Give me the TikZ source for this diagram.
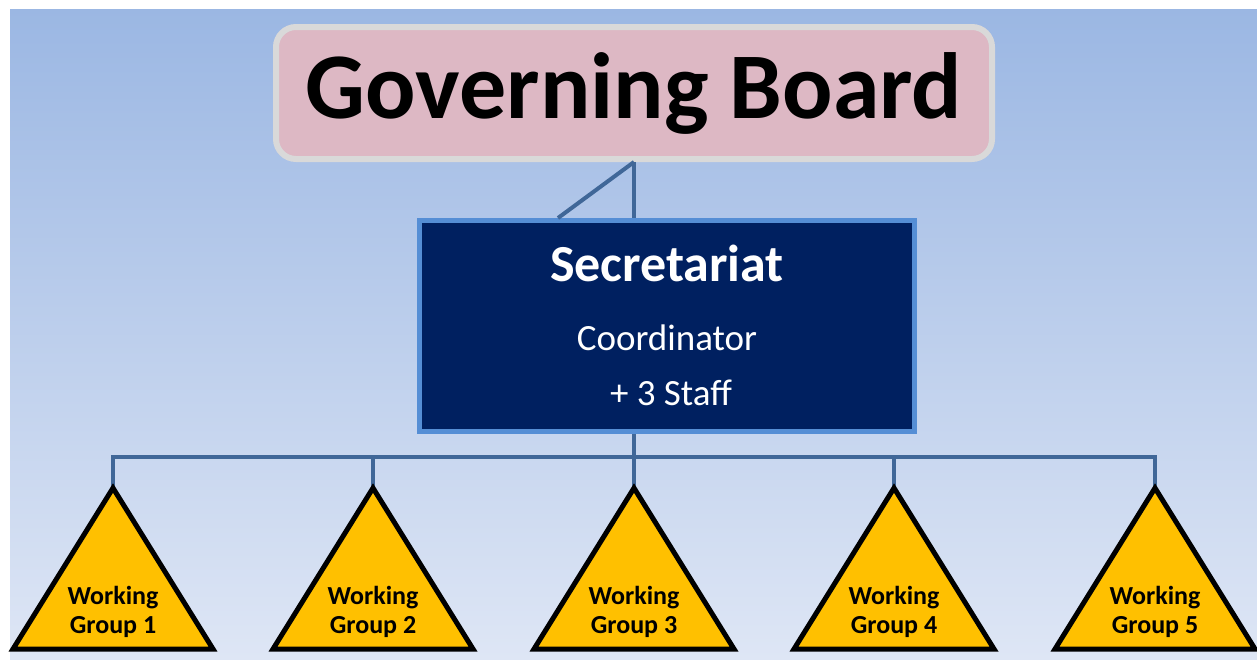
\documentclass[tikz,border=0pt]{standalone}
\usepackage{fontspec}
\setmainfont{Carlito}
\definecolor{bgtop}{RGB}{155,183,227}
\definecolor{bgbottom}{RGB}{222,230,245}
\definecolor{boardpink}{RGB}{221,184,196}
\definecolor{boardedge}{RGB}{217,217,217}
\definecolor{secnavy}{RGB}{0,32,96}
\definecolor{secedge}{RGB}{85,142,213}
\definecolor{linkblue}{RGB}{64,103,152}
\definecolor{wgyellow}{RGB}{255,192,0}
\tikzset{boardbox/.style={
            draw=boardedge,
            fill=boardpink,
            line width=6pt,
            rounded corners=20pt,
            minimum width=716pt,
            minimum height=132pt,
            inner sep=0pt,
            font=\fontsize{94}{94}\selectfont\bfseries
        },
        secbox/.style={
            draw=secedge,
            fill=secnavy,
            line width=5pt,
            minimum width=495pt,
            minimum height=211pt,
            inner sep=0pt
        },
        sectitle/.style={
            text=white,
            inner sep=0pt,
            font=\fontsize{52}{52}\selectfont\bfseries
        },
        secline/.style={
            text=white,
            inner sep=0pt,
            font=\fontsize{37}{37}\selectfont
        },
        wgtri/.style={
            draw=black,
            fill=wgyellow,
            line width=5pt
        },
        wgtext/.style={
            align=center,
            inner sep=0pt,
            font=\fontsize{26}{29}\selectfont\bfseries
        },
        link/.style={
            draw=linkblue,
            line width=4pt
        }
    }

\begin{document}
\begin{tikzpicture}[x=1pt,y=-1pt]
    \useasboundingbox (0,0) rectangle (1257,659);
    \fill[top color=bgtop, bottom color=bgbottom] (10,9) rectangle (1257,659);

    % board and secretariat
    \node[boardbox] (board) at (634,93) {Governing Board};
    \node[secbox] (sec) at (667,326) {};
    \node[sectitle, anchor=base] (sectitle) at (667,281) {Secretariat};
    \node[secline, anchor=base] (secrole) at (667,350) {Coordinator};
    \node[secline, anchor=base] (secstaff) at (671,405) {+ 3 Staff};

    % working groups
    \coordinate (wg1) at (113,488);
    \coordinate (wg2) at (373,488);
    \coordinate (wg3) at (634,488);
    \coordinate (wg4) at (894,488);
    \coordinate (wg5) at (1155,488);
    \coordinate (bus) at (634,457);

    \draw[link] (board.south) -- (board.south |- sec.north);
    \draw[link] (board.south) -- ([xshift=-109pt]sec.north);
    \draw[link] (sec.south -| wg3) -- (wg3);
    \draw[link] (wg1) -- (wg1 |- bus) -- (wg5 |- bus) -- (wg5);
    \draw[link] (wg2) -- (wg2 |- bus);
    \draw[link] (wg4) -- (wg4 |- bus);

    \draw[wgtri] (wg1) -- ++(-100,161) -- ++(200,0) -- cycle;
    \draw[wgtri] (wg2) -- ++(-100,161) -- ++(200,0) -- cycle;
    \draw[wgtri] (wg3) -- ++(-100,161) -- ++(200,0) -- cycle;
    \draw[wgtri] (wg4) -- ++(-100,161) -- ++(200,0) -- cycle;
    \draw[wgtri] (wg5) -- ++(-100,161) -- ++(200,0) -- cycle;

    \node[wgtext] (wg1text) at (113,612) {Working\\Group 1};
    \node[wgtext] (wg2text) at (373,612) {Working\\Group 2};
    \node[wgtext] (wg3text) at (634,612) {Working\\Group 3};
    \node[wgtext] (wg4text) at (894,612) {Working\\Group 4};
    \node[wgtext] (wg5text) at (1155,612) {Working\\Group 5};

\end{tikzpicture}
\end{document}
